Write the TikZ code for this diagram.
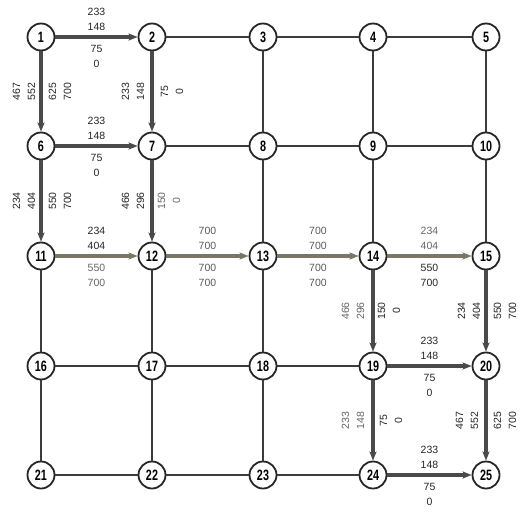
\documentclass[tikz,border=0pt]{standalone}
\usepackage{fontspec}
\setmainfont{Liberation Sans}
\newfontfamily\nodefont[FakeStretch=0.72]{Liberation Sans}
\usetikzlibrary{arrows.meta}
\definecolor{routegray}{HTML}{4A4A4A}
\definecolor{routeolive}{HTML}{7A7766}
\definecolor{gridgray}{HTML}{3C3C3C}

\begin{document}
\begin{tikzpicture}[x=1pt,y=1pt,
  vtx/.style={circle,draw=black!85,line width=1.8pt,fill=white,minimum size=27pt,inner sep=0pt,font=\nodefont\bfseries\fontsize{15}{15}\selectfont},
  thin/.style={draw=gridgray,line width=1.1pt},
  route/.style={draw=routegray,line width=3.4pt,-{Stealth[length=9pt,width=7pt,inset=2pt]}},
  lbl/.style={align=center,inner sep=0pt,font=\fontsize{10.5}{15}\selectfont,text=black!85}]
\useasboundingbox (0,0) rectangle (526,512);
\node[vtx] (n1) at (41,475) {1};
\node[vtx] (n2) at (152,475) {2};
\node[vtx] (n3) at (263,475) {3};
\node[vtx] (n4) at (373,475) {4};
\node[vtx] (n5) at (486,475) {5};
\node[vtx] (n6) at (41,366) {6};
\node[vtx] (n7) at (152,366) {7};
\node[vtx] (n8) at (263,366) {8};
\node[vtx] (n9) at (373,366) {9};
\node[vtx] (n10) at (486,366) {10};
\node[vtx] (n11) at (41,256) {11};
\node[vtx] (n12) at (152,256) {12};
\node[vtx] (n13) at (263,256) {13};
\node[vtx] (n14) at (373,256) {14};
\node[vtx] (n15) at (486,256) {15};
\node[vtx] (n16) at (41,146) {16};
\node[vtx] (n17) at (152,146) {17};
\node[vtx] (n18) at (263,146) {18};
\node[vtx] (n19) at (373,146) {19};
\node[vtx] (n20) at (486,146) {20};
\node[vtx] (n21) at (41,37) {21};
\node[vtx] (n22) at (152,37) {22};
\node[vtx] (n23) at (263,37) {23};
\node[vtx] (n24) at (373,37) {24};
\node[vtx] (n25) at (486,37) {25};
\draw[thin] (n2) -- (n3) (n3) -- (n4) (n4) -- (n5) (n7) -- (n8) (n8) -- (n9) (n9) -- (n10)
  (n16) -- (n17) (n17) -- (n18) (n18) -- (n19) (n21) -- (n22) (n22) -- (n23) (n23) -- (n24);
\draw[thin] (n3) -- (n8) (n4) -- (n9) (n5) -- (n10) (n8) -- (n13) (n9) -- (n14) (n10) -- (n15)
  (n11) -- (n16) (n12) -- (n17) (n13) -- (n18) (n16) -- (n21) (n17) -- (n22) (n18) -- (n23);
\draw[route] (n1) -- (n2) node[lbl,midway,yshift=18pt] {233\\148} node[lbl,midway,yshift=-19pt] {75\\0};
\draw[route] (n6) -- (n7) node[lbl,midway,yshift=18pt] {233\\148} node[lbl,midway,yshift=-19pt] {75\\0};
\draw[route,draw=routeolive] (n11) -- (n12) node[lbl,midway,yshift=18pt] {234\\404} node[lbl,midway,yshift=-19pt,text=black!60] {550\\700};
\draw[route,draw=routeolive] (n12) -- (n13) node[lbl,midway,yshift=18pt,text=black!65] {700\\700} node[lbl,midway,yshift=-19pt,text=black!65] {700\\700};
\draw[route,draw=routeolive] (n13) -- (n14) node[lbl,midway,yshift=18pt,text=black!65] {700\\700} node[lbl,midway,yshift=-19pt,text=black!65] {700\\700};
\draw[route,draw=routeolive] (n14) -- (n15) node[lbl,midway,yshift=18pt,text=black!60] {234\\404} node[lbl,midway,yshift=-19pt] {550\\700};
\draw[route] (n19) -- (n20) node[lbl,midway,yshift=18pt] {233\\148} node[lbl,midway,yshift=-19pt] {75\\0};
\draw[route] (n24) -- (n25) node[lbl,midway,yshift=18pt] {233\\148} node[lbl,midway,yshift=-19pt] {75\\0};
\draw[route] (n1) -- (n6) node[lbl,midway,xshift=-17pt,rotate=90] {467\\552} node[lbl,midway,xshift=19pt,rotate=90] {625\\700};
\draw[route] (n2) -- (n7) node[lbl,midway,xshift=-19pt,rotate=90] {233\\148} node[lbl,midway,xshift=20pt,rotate=90] {75\\0};
\draw[route] (n6) -- (n11) node[lbl,midway,xshift=-17pt,rotate=90] {234\\404} node[lbl,midway,xshift=19pt,rotate=90] {550\\700};
\draw[route] (n7) -- (n12) node[lbl,midway,xshift=-19pt,rotate=90] {466\\296} node[lbl,midway,xshift=17pt,rotate=90,text=black!60] {150\\0};
\draw[route] (n14) -- (n19) node[lbl,midway,xshift=-20pt,rotate=90,text=black!60] {466\\296} node[lbl,midway,xshift=16pt,rotate=90] {150\\0};
\draw[route] (n15) -- (n20) node[lbl,midway,xshift=-17pt,rotate=90] {234\\404} node[lbl,midway,xshift=19pt,rotate=90] {550\\700};
\draw[route] (n19) -- (n24) node[lbl,midway,xshift=-20pt,rotate=90,text=black!60] {233\\148} node[lbl,midway,xshift=18pt,rotate=90] {75\\0};
\draw[route] (n20) -- (n25) node[lbl,midway,xshift=-19pt,rotate=90] {467\\552} node[lbl,midway,xshift=19pt,rotate=90] {625\\700};
\end{tikzpicture}
\end{document}
